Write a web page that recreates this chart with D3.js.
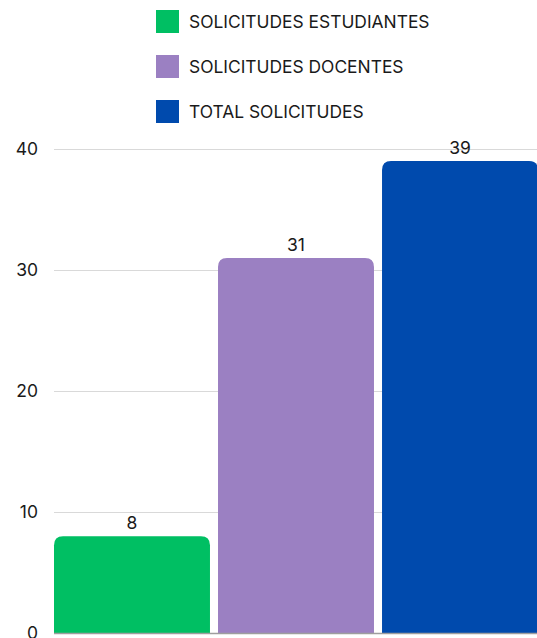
<!DOCTYPE html>
<html>
<head>
<meta charset="utf-8">
<script src="https://cdn.jsdelivr.net/npm/d3@7"></script>
<style>
  html, body { margin: 0; padding: 0; background: #fff; }
  svg { display: block; font-family: Inter, "Noto Sans", sans-serif; }
</style>
</head>
<body>
<div id="chart"></div>
<script>
// datos del grafico
const categorias = ['SOLICITUDES ESTUDIANTES', 'SOLICITUDES DOCENTES', 'TOTAL SOLICITUDES'];
const valores = [8, 31, 39];
const colores = ['#00bf63', '#9b80c2', '#004aad'];
const ticksY = [0, 10, 20, 30, 40];

const width = 537;
const height = 638;

const svg = d3.select('#chart')
    .append('svg')
    .attr('width', width)
    .attr('height', height);

const x = d3.scaleBand()
    .domain(categorias)
    .range([54, 538])
    .paddingInner(0.049)
    .paddingOuter(0);

const y = d3.scaleLinear()
    .domain([0, 40])
    .range([633, 149]);

// lineas de la grilla
svg.selectAll('line.grid')
    .data(ticksY.filter(d => d > 0))
    .enter()
    .append('line')
    .attr('class', 'grid')
    .attr('x1', 54)
    .attr('x2', width)
    .attr('y1', d => y(d) + 0.5)
    .attr('y2', d => y(d) + 0.5)
    .attr('stroke', '#d9d9d9')
    .attr('stroke-width', 1);

// etiquetas eje Y
svg.selectAll('text.ytick')
    .data(ticksY)
    .enter()
    .append('text')
    .attr('class', 'ytick')
    .attr('x', 38)
    .attr('y', d => y(d))
    .attr('dy', '0.36em')
    .attr('text-anchor', 'end')
    .attr('font-size', 17.5)
    .attr('fill', '#1a1a1a')
    .text(d => d);

// barras con esquinas superiores redondeadas
function barPath(x0, y0, w, h, r) {
    return `M${x0},${y0 + h} V${y0 + r} Q${x0},${y0} ${x0 + r},${y0} H${x0 + w - r} Q${x0 + w},${y0} ${x0 + w},${y0 + r} V${y0 + h} Z`;
}

svg.selectAll('path.bar')
    .data(valores)
    .enter()
    .append('path')
    .attr('class', 'bar')
    .attr('fill', (d, i) => colores[i])
    .attr('d', (d, i) => barPath(x(categorias[i]), y(d), x.bandwidth(), y(0) - y(d), 9));

// linea base
svg.append('line')
    .attr('x1', 54)
    .attr('x2', width)
    .attr('y1', y(0) + 0.5)
    .attr('y2', y(0) + 0.5)
    .attr('stroke', '#9e9e9e')
    .attr('stroke-width', 1.5);

// etiquetas de valor
svg.selectAll('text.valor')
    .data(valores)
    .enter()
    .append('text')
    .attr('class', 'valor')
    .attr('x', (d, i) => x(categorias[i]) + x.bandwidth() / 2)
    .attr('y', d => y(d) - 7)
    .attr('text-anchor', 'middle')
    .attr('font-size', 17.5)
    .attr('fill', '#1a1a1a')
    .text(d => d);

// leyenda
const leyenda = svg.selectAll('g.leyenda')
    .data(categorias)
    .enter()
    .append('g')
    .attr('class', 'leyenda')
    .attr('transform', (d, i) => `translate(156, ${10 + i * 45})`);

leyenda.append('rect')
    .attr('width', 23)
    .attr('height', 23)
    .attr('fill', (d, i) => colores[i]);

leyenda.append('text')
    .attr('x', 33)
    .attr('y', 11.5)
    .attr('dy', '0.35em')
    .attr('font-size', 17.4)
    .attr('fill', '#1a1a1a')
    .text(d => d);
</script>
</body>
</html>
